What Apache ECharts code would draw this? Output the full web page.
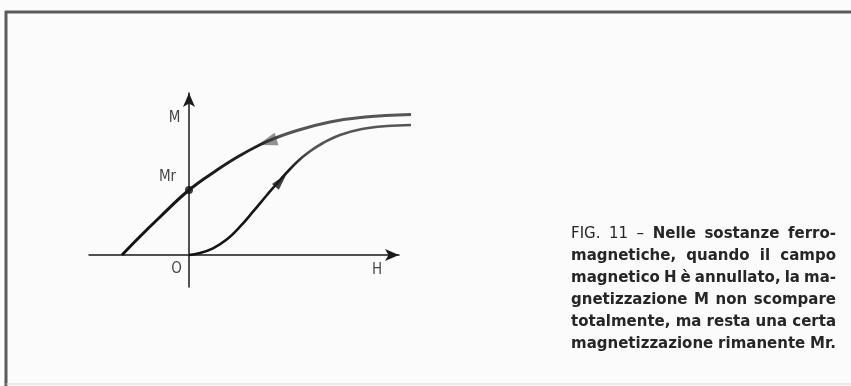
<!DOCTYPE html>
<html>
<head>
<meta charset="utf-8">
<script src="https://cdn.jsdelivr.net/npm/echarts@6/dist/echarts.min.js"></script>
<style>
  html, body { margin: 0; padding: 0; background: #fbfbfb; }
  #chart { width: 851px; height: 386px; }
</style>
</head>
<body>
<div id="chart"></div>
<script>
  // curva di smagnetizzazione (ramo superiore) [H, M]
  let ramoDiscesa = [
    [-6.7, 0], [-4.9, 1.85], [-2.9, 3.8], [0, 6.5], [2.8, 8.5], [5.1, 9.95],
    [7.8, 11.35], [10.8, 12.45], [14.1, 13.3], [17.6, 13.8], [22.2, 14.05]
  ];
  // curva di prima magnetizzazione
  let primaMagn = [
    [0, 0], [1.0, 0.17], [2.4, 0.67], [3.8, 1.57], [5.1, 2.83], [6.4, 4.33],
    [7.8, 6.0], [9.1, 7.5], [10.8, 9.3], [12.0, 10.3], [13.4, 11.2],
    [15.1, 12.0], [17.3, 12.6], [19.8, 12.9], [22.2, 13.0]
  ];
  let puntoMr = [[0, 6.5]];
  // frecce: [H, M, rotazione, colore, dimensione]
  let frecce = [[7.8, 11.3, 107, '#777', [13, 20]], [9.2, 7.45, -41, '#111', [9, 17]]];
  let nomiAssi = [['M', -1.45, 13.65], ['Mr', -2.15, 7.8], ['O', -1.25, -1.4], ['H', 18.8, -1.55]];
  let didascalia = [
    'FIG. 11 – Nelle sostanze ferro-',
    'magnetiche, quando il campo',
    'magnetico H è annullato, la ma-',
    'gnetizzazione M non scompare',
    'totalmente, ma resta una certa',
    'magnetizzazione rimanente Mr.'
  ];

  let chart = echarts.init(document.getElementById('chart'));

  let assi = {
    show: true,
    onZero: true,
    symbol: ['none', 'arrow'],
    symbolSize: [9, 14],
    lineStyle: { color: '#1a1a1a', width: 1.5 }
  };
  let nascosto = { show: false };

  // testo giustificato come nella stampa
  let fontBold = 'bold 15px "DejaVu Sans", sans-serif';
  let fontNorm = '15px "DejaVu Sans", sans-serif';
  let ctx = document.createElement('canvas').getContext('2d');
  let testi = [];
  didascalia.forEach((riga, i) => {
    let parole = riga.split(' ');
    let larg = parole.map((p, j) => {
      ctx.font = (i === 0 && j < 3) ? fontNorm : fontBold;
      return ctx.measureText(p).width;
    });
    let totale = larg.reduce((a, b) => a + b, 0);
    let spazio = Math.max(3, (836 - 571 - totale) / (parole.length - 1));
    let x = 571;
    parole.forEach((p, j) => {
      testi.push({
        type: 'text', left: x, top: 227 + i * 22,
        style: { text: p, fill: '#262626', font: (i === 0 && j < 3) ? fontNorm : fontBold }
      });
      x += larg[j] + spazio;
    });
  });

  let option = {
    backgroundColor: '#fbfbfb',
    animation: false,
    grid: [
      { left: 89, top: 93, width: 310, height: 194 },
      { left: 89, top: 93, width: 340, height: 194 }
    ],
    xAxis: [
      {
        type: 'value', min: -10, max: 21,
        axisLine: assi, axisTick: nascosto, axisLabel: nascosto, splitLine: nascosto
      },
      { type: 'value', gridIndex: 1, min: -10, max: 24, show: false }
    ],
    yAxis: [
      {
        type: 'value', min: -3.2, max: 16.2,
        axisLine: assi, axisTick: nascosto, axisLabel: nascosto, splitLine: nascosto
      },
      { type: 'value', gridIndex: 1, min: -3.2, max: 16.2, show: false }
    ],
    graphic: [
      { type: 'line', shape: { x1: 5, y1: 12, x2: 851, y2: 12 }, style: { stroke: '#5a5a5a', lineWidth: 3 } },
      { type: 'line', shape: { x1: 6, y1: 11, x2: 6, y2: 386 }, style: { stroke: '#5a5a5a', lineWidth: 3 } },
      { type: 'line', shape: { x1: 6, y1: 384, x2: 851, y2: 384 }, style: { stroke: '#d8d8d8', lineWidth: 1 } }
    ].concat(testi),
    series: [
      {
        type: 'line', xAxisIndex: 1, yAxisIndex: 1, data: ramoDiscesa,
        smooth: 0.4, showSymbol: false,
        lineStyle: {
          width: 3,
          color: new echarts.graphic.LinearGradient(0, 0, 1, 0, [
            { offset: 0, color: '#111' }, { offset: 0.48, color: '#222' },
            { offset: 0.56, color: '#555' }, { offset: 1, color: '#555' }
          ])
        }
      },
      {
        type: 'line', xAxisIndex: 1, yAxisIndex: 1, data: primaMagn,
        smooth: 0.4, showSymbol: false,
        lineStyle: {
          width: 2.6,
          color: new echarts.graphic.LinearGradient(0, 0, 1, 0, [
            { offset: 0, color: '#111' }, { offset: 0.45, color: '#1a1a1a' },
            { offset: 0.55, color: '#555' }, { offset: 1, color: '#555' }
          ])
        }
      },
      {
        type: 'scatter', data: puntoMr, symbol: 'circle', symbolSize: 8,
        itemStyle: { color: '#111' }
      },
      {
        type: 'scatter', clip: false, symbol: 'triangle',
        data: frecce.map(f => ({
          value: [f[0], f[1]], symbolRotate: f[2], symbolSize: f[4], itemStyle: { color: f[3] }
        }))
      },
      {
        type: 'scatter', symbolSize: 0, clip: false,
        data: nomiAssi.map(n => ({ name: n[0], value: [n[1], n[2]] })),
        label: {
          show: true, position: 'inside', formatter: '{b}',
          color: '#151515', fontSize: 15,
          fontFamily: '"DejaVu Sans Condensed", "Liberation Sans", sans-serif'
        }
      }
    ]
  };
  chart.setOption(option);
</script>
</body>
</html>
